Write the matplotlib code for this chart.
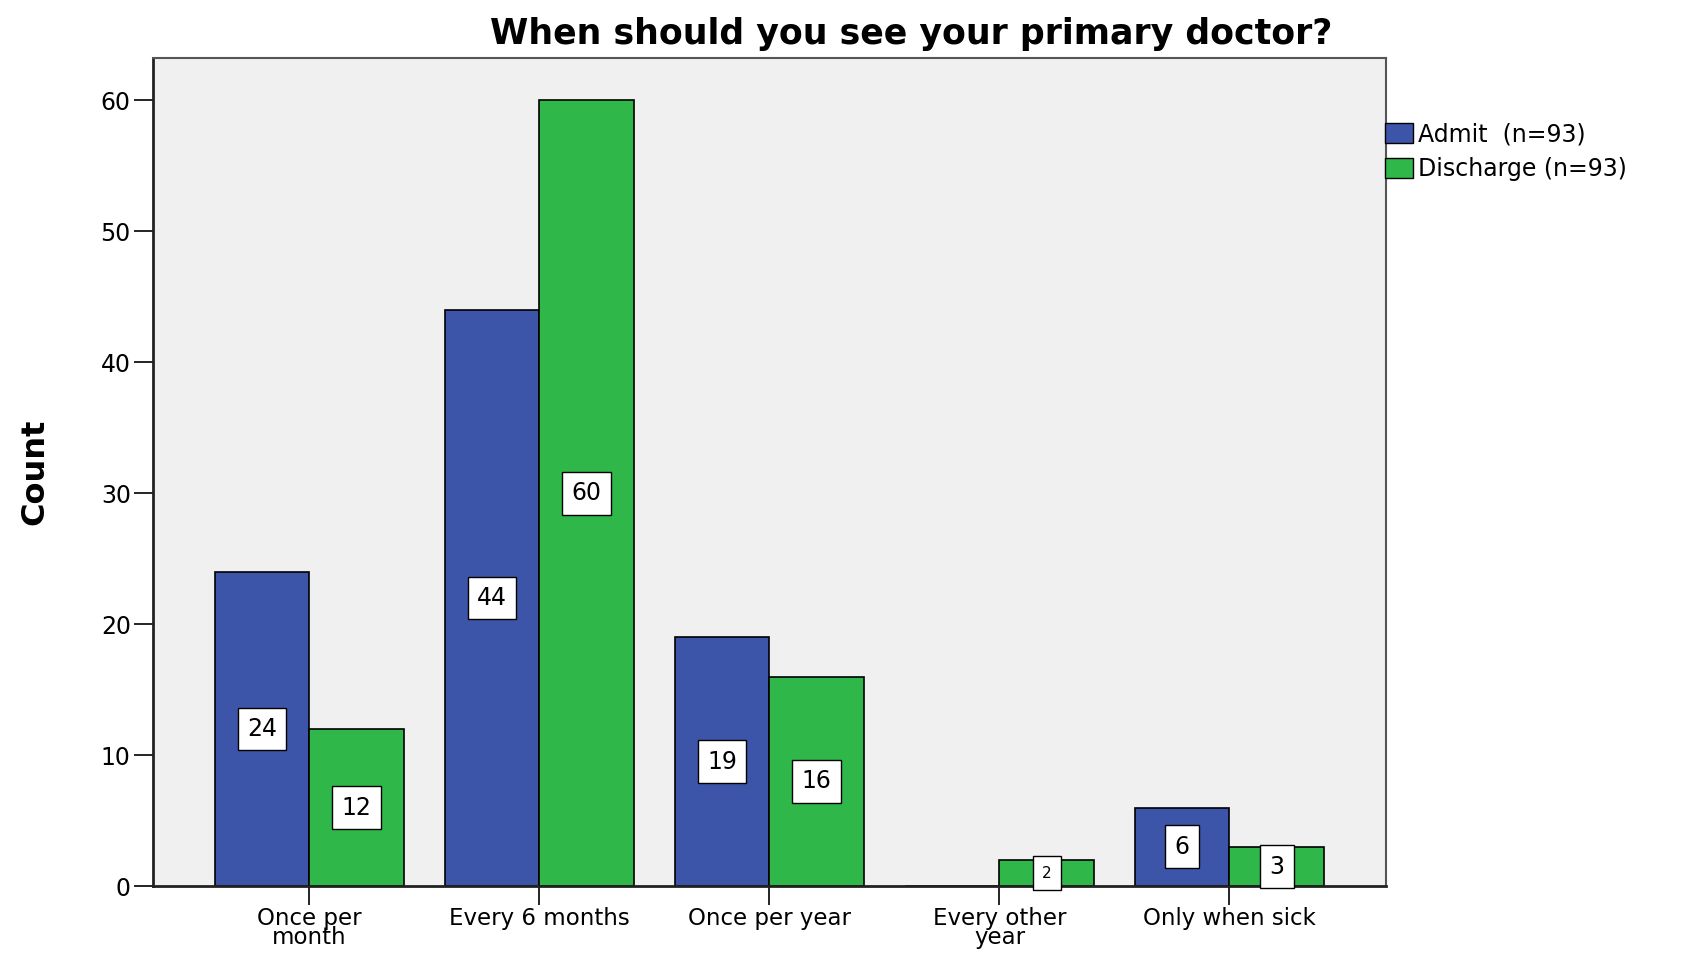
import matplotlib
matplotlib.use("Agg")
import matplotlib.pyplot as plt
from matplotlib.patches import Patch
import numpy as np

plt.rcParams['font.family'] = ['DejaVu Sans']

categories = ["Once per\nmonth", "Every 6 months", "Once per year", "Every other\nyear", "Only when sick"]
admit = [24, 44, 19, 0, 6]
discharge = [12, 60, 16, 2, 3]
series_names = ["Admit  (n=93)", "Discharge (n=93)"]
blue = "#3d55a8"
green = "#2fb74a"

fig = plt.figure(figsize=(16.85, 9.56), dpi=100)
ax = fig.add_axes([0.0908, 0.073, 0.7317, 0.866])
ax.set_facecolor("#f0f0f0")

x = np.arange(len(categories))
w = 0.412
ax.bar(x - w / 2, admit, w, color=blue, edgecolor="black", linewidth=1.2, zorder=2)
ax.bar(x + w / 2, discharge, w, color=green, edgecolor="black", linewidth=1.2, zorder=2)

# value boxes at mid-height of each bar (skip zero bars)
for xs, vals in [(x - w / 2, admit), (x + w / 2, discharge)]:
    for xi, v in zip(xs, vals):
        if v == 0:
            continue
        fs = 11 if v < 3 else 17
        pad = 0.6 if v < 3 else 0.4
        ax.text(xi, v / 2, str(v), ha="center", va="center", fontsize=fs, zorder=4,
                clip_on=False,
                bbox=dict(boxstyle="square,pad=%s" % pad, fc="white", ec="black", lw=1.0))

ax.set_xlim(-0.68, 4.68)
ax.set_ylim(0, 63.2)
ax.set_yticks([0, 10, 20, 30, 40, 50, 60])
ax.set_xticks(x)
ax.set_xticklabels(categories, fontsize=16.5, linespacing=0.75)
ax.tick_params(axis="y", labelsize=17, length=14, width=1.2, direction="out", pad=2)
ax.tick_params(axis="x", length=14, width=1.2, direction="out", pad=1)

for s in ["left", "bottom"]:
    ax.spines[s].set_linewidth(2)
    ax.spines[s].set_color("#222222")
for s in ["top", "right"]:
    ax.spines[s].set_linewidth(1.5)
    ax.spines[s].set_color("#555555")

ax.set_ylabel("Count", fontsize=23, fontweight="bold", labelpad=36)
ax.set_title("When should you see your primary doctor?", fontsize=25, fontweight="bold",
             x=0.615, pad=10)

handles = [Patch(facecolor=blue, edgecolor="black"), Patch(facecolor=green, edgecolor="black")]
fig.legend(handles, series_names, loc="upper left", bbox_to_anchor=(0.822, 0.872),
           frameon=False, fontsize=17, handlelength=1.2, handleheight=0.95,
           handletextpad=0.2, labelspacing=0.45, borderaxespad=0, borderpad=0)

fig.savefig("out.png", dpi=100, facecolor="white")
